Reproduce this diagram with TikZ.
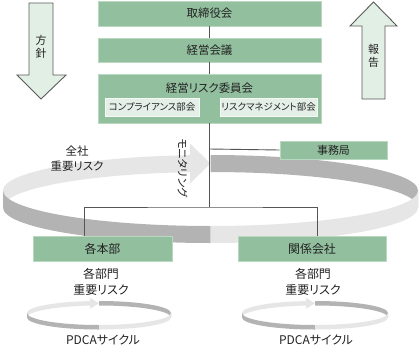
\documentclass[tikz,border=0pt]{standalone}
\usepackage{fontspec}
\setmainfont[RawFeature=+palt]{Noto Sans CJK JP}
\definecolor{boxgreen}{HTML}{92BF9E}
\definecolor{boxedge}{HTML}{B9D8C1}
\definecolor{subfill}{HTML}{E4F0E7}
\definecolor{subedge}{HTML}{F4F9F5}
\definecolor{arrowfill}{HTML}{E2EFE5}
\definecolor{arrowedge}{HTML}{5A5A5A}
\definecolor{ringL}{HTML}{E6E6E6}
\definecolor{ringD}{HTML}{B3B3B3}
\definecolor{linec}{HTML}{555555}
\definecolor{txt}{HTML}{222222}
\newcommand\myring[8]{%
 \fill[ringL] ({#1-#3},#2) arc[start angle=180,end angle=#6,x radius=#3,y radius=#4] -- ++(0,#5) arc[start angle=#6,end angle=180,x radius=#3,y radius=#4] -- cycle;
 \fill[ringL] (#7,{#2-#4+#5/2-#8}) -- (#1,{#2-#4+#5/2}) -- (#7,{#2-#4+#5/2+#8}) -- cycle;
 \fill[ringD] (#1,{#2-#4}) arc[start angle=270,end angle=360,x radius=#3,y radius=#4] -- ++(0,#5) arc[start angle=360,end angle=270,x radius=#3,y radius=#4] -- cycle;
 \fill[ringD] (#1,{#2+#4}) arc[start angle=90,end angle=180,x radius=#3,y radius=#4] -- ++(0,#5) arc[start angle=180,end angle=90,x radius=#3,y radius=#4] -- cycle;
 \fill[ringL] ({#1+#3},#2) arc[start angle=0,end angle=90,x radius=#3,y radius=#4] -- ++(0,#5) arc[start angle=90,end angle=0,x radius=#3,y radius=#4] -- cycle;
}
\begin{document}
\begin{tikzpicture}[x=1bp,y=-1bp,
  gbox/.style={draw=boxedge, fill=boxgreen, line width=0.6bp, inner sep=0pt, text=txt, font=\fontsize{11.5}{13}\selectfont},
  sbox/.style={draw=subedge, fill=subfill, line width=0.8bp, inner sep=0pt, text=txt, font=\fontsize{9.5}{11}\selectfont},
  lbl/.style={text=txt, inner sep=0pt, align=center, font=\fontsize{12}{16}\selectfont},
  conn/.style={draw=linec, line width=0.9bp},
  bigarrow/.style={draw=arrowedge, fill=arrowfill, line width=0.9bp}]
\useasboundingbox[fill=white] (0,0) rectangle (420,348);

% rings
\myring{210.5}{190.5}{207.5}{35.5}{17}{264.3}{190}{20}
\myring{99}{313}{72}{12}{4.5}{262.8}{90}{5.5}
\myring{315}{313}{73}{12}{4.5}{262.9}{306}{5.5}

% big arrows
\draw[bigarrow] (29,3) -- (53,3) -- (53,75) -- (66,75) -- (41,99) -- (17,75) -- (29,75) -- cycle;
\node[lbl, font=\fontsize{11}{13}\selectfont] (hoshin) at (41,46.5) {方\\針};
\draw[bigarrow] (362,99) -- (385,99) -- (385,26) -- (397,26) -- (373.5,2) -- (350,26) -- (362,26) -- cycle;
\node[lbl, font=\fontsize{11}{13}\selectfont] (hokoku) at (373.5,56) {報\\告};

% boxes
\node[gbox, minimum width=223bp, minimum height=25bp] (tori) at (209.5,13.5) {取締役会};
\node[gbox, minimum width=223bp, minimum height=24bp] (keiei) at (209.5,50) {経営会議};
\node[gbox, minimum width=223bp, minimum height=49bp] (risk) at (209.5,98.5) {};
\node[lbl, font=\fontsize{11.5}{13}\selectfont] (risklbl) at (209.5,88) {経営リスク委員会};
\node[sbox, minimum width=94bp, minimum height=18bp] (comp) at (152,107) {コンプライアンス部会};
\node[sbox, minimum width=97bp, minimum height=18bp] (rmgmt) at (268.5,107) {リスクマネジメント部会};
\node[gbox, minimum width=107bp, minimum height=18bp, font=\fontsize{11}{13}\selectfont] (jimu) at (333.5,150) {事務局};
\node[gbox, minimum width=139bp, minimum height=25bp, font=\fontsize{12}{13}\selectfont] (honbu) at (102.5,248.5) {各本部};
\node[gbox, minimum width=148bp, minimum height=25bp, font=\fontsize{12}{13}\selectfont] (kankei) at (312,248.5) {関係会社};

% connectors
\coordinate (jun) at (209.5,207);
\coordinate (jbr) at (209.5,149);
\draw[conn] (tori.south) -- (keiei.north);
\draw[conn] (keiei.south) -- (risk.north);
\draw[conn] (risk.south) -- (jun);
\draw[conn] (jbr) -- (jimu.west);
\draw[conn] ([xshift=-18.5bp]honbu.north) |- (jun) -| ([xshift=5bp]kankei.north);

% labels
\node[lbl, rotate=-90, font=\fontsize{11}{13}\selectfont] (moni) at (182.5,168) {モニタリング};
\node[lbl, font=\fontsize{11.5}{15}\selectfont] (zensha) at (77,158.5) {全社\\重要リスク};
\node[lbl] (kakuL) at (101,281.5) {各部門\\重要リスク};
\node[lbl] (kakuR) at (313,281.5) {各部門\\重要リスク};
\node[lbl] (pdcaL) at (103,340) {PDCAサイクル};
\node[lbl] (pdcaR) at (316,340) {PDCAサイクル};
\end{tikzpicture}
\end{document}
